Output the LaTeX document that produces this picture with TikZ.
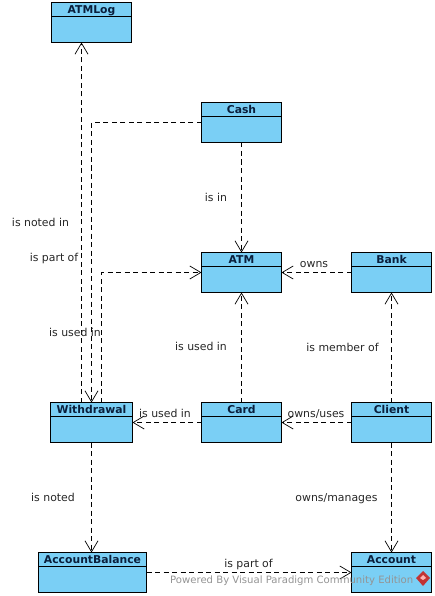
\documentclass[tikz,border=0pt]{standalone}
\usepackage{fontspec}
\setmainfont{DejaVu Sans}
\usetikzlibrary{arrows.meta,calc}
\definecolor{classfill}{HTML}{7ACFF5}
\definecolor{titleink}{HTML}{0A1F3C}
\tikzset{
  x=1pt,y=-1pt,
  classbox/.style={draw=black,fill=classfill,line width=0.9pt,minimum height=40pt,inner sep=0pt,outer sep=0pt,anchor=north west},
  classtitle/.style={font=\bfseries\fontsize{10.8}{12}\selectfont,text=titleink,inner sep=0pt,anchor=base},
  dep/.style={draw=black,line width=0.8pt,dash pattern=on 5pt off 3.5pt,-{Straight Barb[length=11pt,width=13pt,line width=0.7pt]}},
  rel/.style={font=\fontsize{10.9}{12}\selectfont,text=black!85,inner sep=0pt,anchor=base},
  mark text/.style={font=\fontsize{10.1}{12}\selectfont,text=black!42,inner sep=0pt,anchor=base west},
}
\newcommand{\umlclass}[5]{%
  \node[classbox,minimum width=#4 pt] (#1) at (#2,#3) {};
  \draw[line width=0.8pt] ($(#1.north west)+(0,14)$) -- ($(#1.north east)+(0,14)$);
  \node[classtitle] (#1t) at ($(#1.north)+(0,11)$) {#5};
}
\begin{document}
\begin{tikzpicture}
\useasboundingbox (0,0) rectangle (435,596);
\umlclass{atmlog}{51.5}{2.5}{80}{ATMLog}
\umlclass{cash}{201.5}{102.5}{80}{Cash}
\umlclass{atm}{201.5}{252.5}{80}{ATM}
\umlclass{bank}{351.5}{252.5}{80}{Bank}
\umlclass{wd}{50.5}{402.5}{82}{Withdrawal}
\umlclass{card}{201.5}{402.5}{80}{Card}
\umlclass{client}{351.5}{402.5}{80}{Client}
\umlclass{ab}{38.5}{552.5}{108}{AccountBalance}
\umlclass{acct}{351.5}{552.5}{80}{Account}

\coordinate (wdA) at ($(wd.north west)+(31,0)$);
\coordinate (wdB) at ($(wd.north west)+(41,0)$);
\coordinate (wdC) at ($(wd.north west)+(51,0)$);
\coordinate (wdD) at ($(wd.south west)+(41,0)$);
\coordinate (cashL) at ($(cash.north west)+(0,20)$);

\draw[dep] (wdA) -- (wdA |- atmlog.south);
\draw[dep] (cashL) -| (wdB);
\draw[dep] (wdC) |- (atm.west);
\draw[dep] (cash.south) -- (atm.north);
\draw[dep] (bank.west) -- (atm.east);
\draw[dep] (card.north) -- (atm.south);
\draw[dep] (client.north) -- (bank.south);
\draw[dep] (client.west) -- (card.east);
\draw[dep] (card.west) -- (wd.east);
\draw[dep] (wdD) -- (wdD |- ab.north);
\draw[dep] (client.south) -- (acct.north);
\draw[dep] (ab.east) -- (acct.west);

\node[rel] (l1) at (40.5,226) {is noted in};
\node[rel] (l2) at (54,261) {is part of};
\node[rel] (l3) at (216,201) {is in};
\node[rel] (l4) at (314,267) {owns};
\node[rel] (l5) at (75,336) {is used in};
\node[rel] (l6) at (201,350) {is used in};
\node[rel] (l7) at (342.5,351) {is member of};
\node[rel] (l8) at (165,417) {is used in};
\node[rel] (l9) at (316,417) {owns/uses};
\node[rel] (l10) at (53,501) {is noted};
\node[rel] (l11) at (336.5,501) {owns/manages};
\node[rel] (l12) at (248.5,567) {is part of};
\node[mark text] (wm) at (170,583) {Powered By Visual Paradigm Community Edition};
\fill[red!70!black!80] (423,571) -- (430,578) -- (423,586) -- (416,578) -- cycle;
\fill[white!70!red] (423,575) -- (426,578) -- (423,580) -- (420,578) -- cycle;
\end{tikzpicture}
\end{document}
